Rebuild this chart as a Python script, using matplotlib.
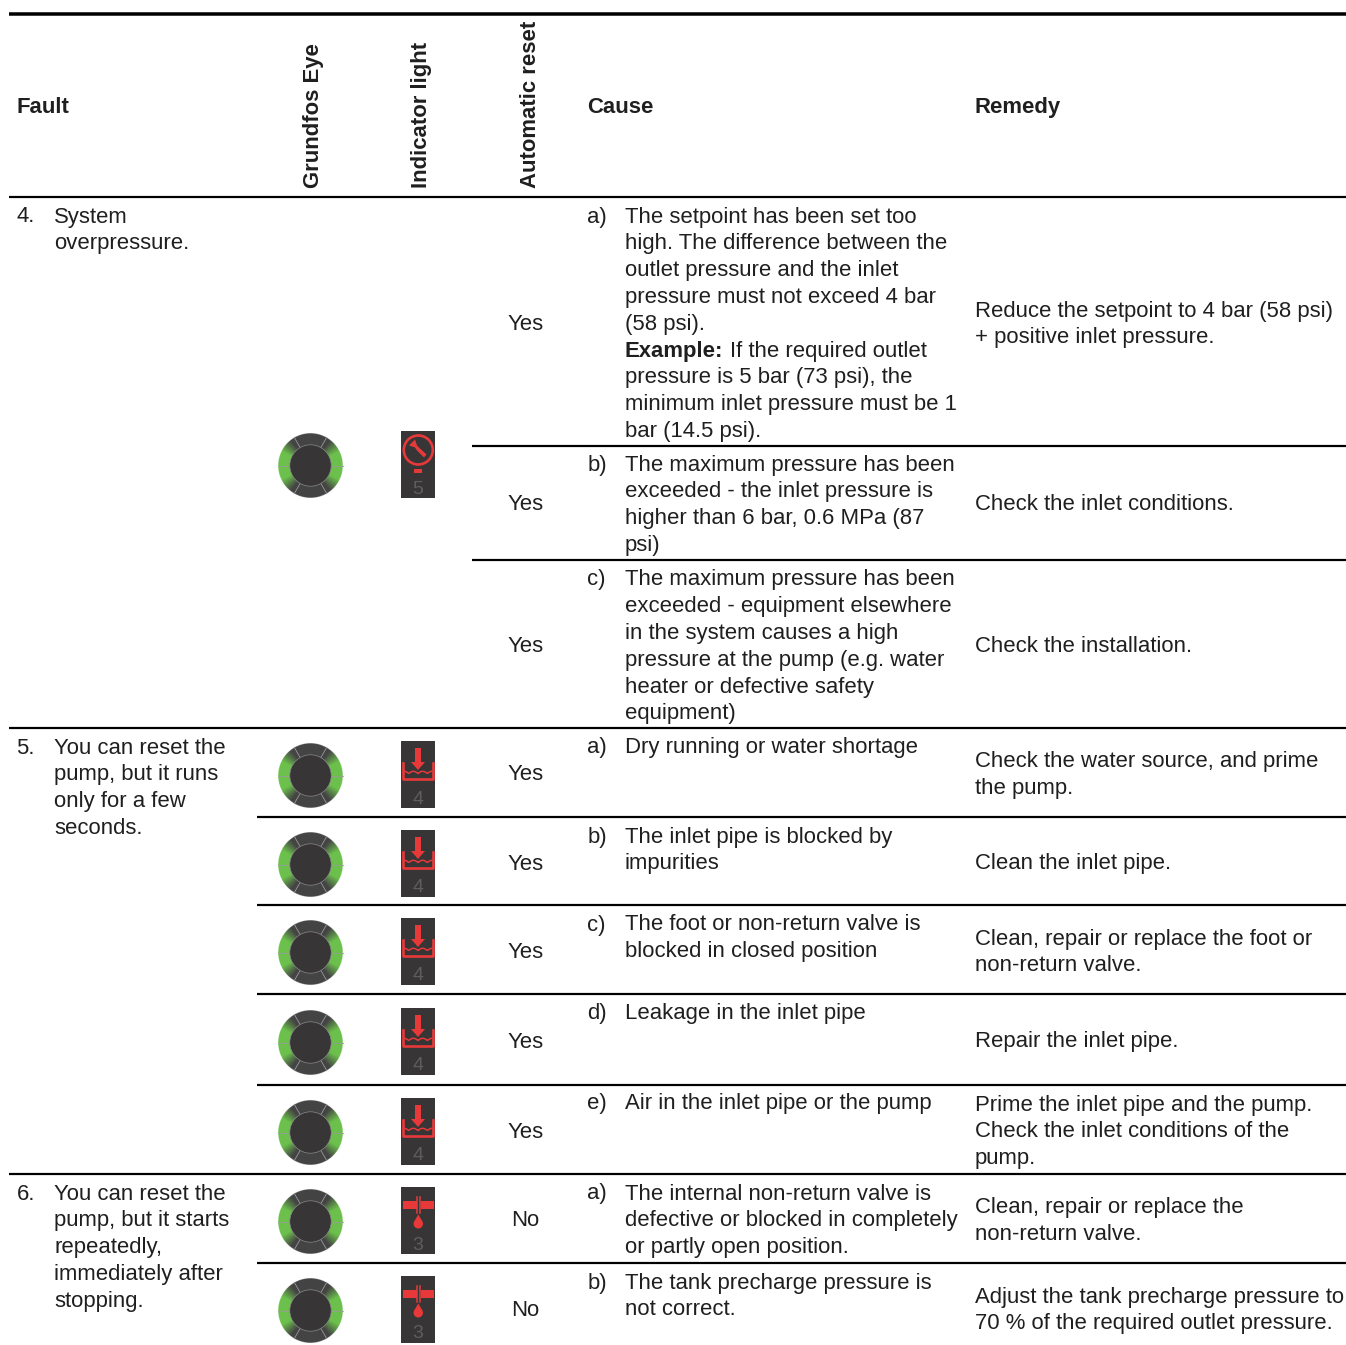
import numpy as np
import matplotlib
matplotlib.use('Agg')
import matplotlib.pyplot as plt
from matplotlib.patches import Circle, Rectangle, Polygon

plt.rcParams['font.family'] = ['Liberation Sans', 'DejaVu Sans']

# table text
headers = ['Fault', 'Cause', 'Remedy']
rotated_headers = ['Grundfos Eye', 'Indicator light', 'Automatic reset']
fault_numbers = ['4.', '5.', '6.']
fault_lines = [['System', 'overpressure.'],
               ['You can reset the', 'pump, but it runs', 'only for a few', 'seconds.'],
               ['You can reset the', 'pump, but it starts', 'repeatedly,', 'immediately after', 'stopping.']]
fault_y = [215, 746, 1192]

cause_letters = ['a)', 'b)', 'c)', 'a)', 'b)', 'c)', 'd)', 'e)', 'a)', 'b)']
cause_lines = [['The setpoint has been set too', 'high. The difference between the', 'outlet pressure and the inlet',
                'pressure must not exceed 4 bar', '(58 psi).', '', 'pressure is 5 bar (73 psi), the',
                'minimum inlet pressure must be 1', 'bar (14.5 psi).'],
               ['The maximum pressure has been', 'exceeded - the inlet pressure is', 'higher than 6 bar, 0.6 MPa (87', 'psi)'],
               ['The maximum pressure has been', 'exceeded - equipment elsewhere', 'in the system causes a high',
                'pressure at the pump (e.g. water', 'heater or defective safety', 'equipment)'],
               ['Dry running or water shortage'],
               ['The inlet pipe is blocked by', 'impurities'],
               ['The foot or non-return valve is', 'blocked in closed position'],
               ['Leakage in the inlet pipe'],
               ['Air in the inlet pipe or the pump'],
               ['The internal non-return valve is', 'defective or blocked in completely', 'or partly open position.'],
               ['The tank precharge pressure is', 'not correct.']]
cause_y = [215, 463, 578, 746, 835, 923, 1012, 1102, 1192, 1281]

auto_reset = ['Yes', 'Yes', 'Yes', 'Yes', 'Yes', 'Yes', 'Yes', 'Yes', 'No', 'No']
auto_y = [322, 502, 645, 773, 862, 950, 1040, 1130, 1219, 1308]

remedy_lines = [['Reduce the setpoint to 4 bar (58 psi)', '+ positive inlet pressure.'],
                ['Check the inlet conditions.'],
                ['Check the installation.'],
                ['Check the water source, and prime', 'the pump.'],
                ['Clean the inlet pipe.'],
                ['Clean, repair or replace the foot or', 'non-return valve.'],
                ['Repair the inlet pipe.'],
                ['Prime the inlet pipe and the pump.', 'Check the inlet conditions of the', 'pump.'],
                ['Clean, repair or replace the', 'non-return valve.'],
                ['Adjust the tank precharge pressure to', '70 % of the required outlet pressure.']]
remedy_y = [309, 503, 645, 760, 862, 937, 1040, 1103, 1206, 1295]

# indicators
eye_y = [465.5, 775.5, 864.5, 952.5, 1042.5, 1132.5, 1221.5, 1310.5]
icon_kind = ['gauge', 'water', 'water', 'water', 'water', 'water', 'pipe', 'pipe']
icon_digit = ['5', '4', '4', '4', '4', '4', '3', '3']

# horizontal rules: y, start x, width in px
rule_y = [14, 197, 446, 560, 728, 817, 905, 994, 1085, 1174, 1263]
rule_x = [9, 9, 472, 472, 9, 257, 257, 257, 257, 9, 257]
rule_w = [3.5, 2.2, 2.2, 2.2, 2.2, 2.2, 2.2, 2.2, 2.2, 2.2, 2.2]

FS = 15.9
LINE = 26.8
INK = '#1f1f1f'
RED = '#e8393a'
DARK = '#373536'
GREEN = np.array([0x6c, 0xc0, 0x4c]) / 255
RING_RGB = np.array([0x44, 0x44, 0x44]) / 255
R_OUT = 32.5
R_IN = 20.7

fig = plt.figure(figsize=(13.46, 13.45), dpi=100)
ax = fig.add_axes([0, 0, 1, 1])


def put(x, y, s, **kw):
    # y is the middle of the lower case letters
    kw.setdefault('fontsize', FS)
    kw.setdefault('color', INK)
    ax.text(x, y + 7.5, s, va='baseline', **kw)


# ring picture, green on the left and right fading into the grey
gx, gy = np.meshgrid(np.linspace(-R_OUT - 1, R_OUT + 1, 270), np.linspace(-R_OUT - 1, R_OUT + 1, 270))
gr = np.hypot(gx, gy)
ga = np.degrees(np.abs(np.arctan2(gy, gx)))
gd = np.minimum(ga, 180 - ga)
gt = np.clip((52 - gd) / 26, 0, 1)[..., None]
ring = np.dstack([RING_RGB + (GREEN - RING_RGB) * gt, np.clip((R_OUT - gr) * 4, 0, 1)])


def draw_eye(cx, cy):
    ax.imshow(ring, extent=(cx - R_OUT - 1, cx + R_OUT + 1, cy + R_OUT + 1, cy - R_OUT - 1), aspect='auto',
              interpolation='antialiased', zorder=1)
    for a in np.arange(0, 360, 60):
        r = np.radians(a)
        ax.plot([cx + R_IN * np.cos(r), cx + R_OUT * np.cos(r)], [cy + R_IN * np.sin(r), cy + R_OUT * np.sin(r)],
                color='#9a9a9a', lw=0.6, zorder=2)
    ax.add_patch(Circle((cx, cy), R_IN, fc=DARK, ec='#8a8a8a', lw=0.5, zorder=3))


def draw_icon(cx, cy, kind, digit):
    ax.add_patch(Rectangle((cx - 17, cy - 33.5), 34, 67, fc=DARK, ec='none'))
    ax.text(cx, cy + 29, digit, color='#5e5e5e', fontsize=14, ha='center', va='baseline')
    if kind == 'gauge':
        ax.add_patch(Circle((cx + 0.3, cy - 14.5), 14.5, fc='none', ec=RED, lw=1.9))
        ax.add_patch(Polygon([(cx - 9, cy - 19), (cx - 3, cy - 25), (cx - 1, cy - 19), (cx + 2, cy - 16),
                              (cx + 8.5, cy - 10), (cx + 6, cy - 7), (cx - 1, cy - 14), (cx - 3, cy - 17)],
                             fc=RED, ec='none'))
        ax.add_patch(Rectangle((cx - 4, cy + 4), 8, 4.5, fc=RED, ec='none'))
    elif kind == 'water':
        ax.add_patch(Rectangle((cx - 3, cy - 26.5), 6, 14.5, fc=RED, ec='none'))
        ax.add_patch(Polygon([(cx - 7, cy - 12.5), (cx + 7, cy - 12.5), (cx, cy - 4.5)], fc=RED, ec='none'))
        ax.plot([cx - 15, cx - 15, cx + 15, cx + 15], [cy - 12, cy + 4, cy + 4, cy - 12], color=RED, lw=1.9,
                solid_joinstyle='round')
        wx = np.linspace(cx - 14, cx + 14, 57)
        ax.plot(wx, cy - 1 - 2.2 * np.abs(np.sin((wx - cx) * np.pi / 9.3)), color=RED, lw=1.1)
    else:
        ax.add_patch(Rectangle((cx - 15.5, cy - 19.2), 14.5, 7.7, fc=RED, ec='none'))
        ax.add_patch(Rectangle((cx + 2.5, cy - 19.2), 13.5, 7.7, fc=RED, ec='none'))
        ax.plot([cx - 1, cx - 1], [cy - 23.5, cy - 7.5], color=RED, lw=1.1)
        ax.plot([cx + 2.3, cx + 2.3], [cy - 23.5, cy - 7.5], color=RED, lw=1.1)
        ax.add_patch(Circle((cx + 0.3, cy + 3.3), 4.7, fc=RED, ec='none'))
        ax.add_patch(Polygon([(cx - 3.8, cy + 1), (cx + 4.4, cy + 1), (cx + 0.3, cy - 6)], fc=RED, ec='none'))


# rules
for y, x0, w in zip(rule_y, rule_x, rule_w):
    ax.plot([x0, 1346], [y, y], color='black', lw=w * 0.72, solid_capstyle='butt')

# header
for x, s in zip([16.5, 587.5, 975], headers):
    put(x, 105.6, s, fontweight='bold')
for x, s in zip([314, 422, 530], rotated_headers):
    ax.text(x, 188, s, rotation=90, ha='center', va='bottom', fontsize=FS, fontweight='bold', color=INK)

# fault column
for num, lines, y0 in zip(fault_numbers, fault_lines, fault_y):
    put(16.5, y0, num)
    for i, s in enumerate(lines):
        put(54, y0 + i * LINE, s)

# cause column
for let, lines, y0 in zip(cause_letters, cause_lines, cause_y):
    put(587.5, y0, let)
    for i, s in enumerate(lines):
        put(625, y0 + i * LINE, s)
put(625, 349, 'Example:', fontweight='bold')
put(730, 349, 'If the required outlet')

# automatic reset column
for s, y in zip(auto_reset, auto_y):
    put(525.5, y, s, ha='center')

# remedy column
for lines, y0 in zip(remedy_lines, remedy_y):
    for i, s in enumerate(lines):
        put(975, y0 + i * LINE, s)

# eyes and indicator lights
for y, kind, digit in zip(eye_y, icon_kind, icon_digit):
    draw_eye(310.5, y)
    draw_icon(418, y - 1, kind, digit)

ax.set_xlim(0, 1346)
ax.set_ylim(1345, 0)
ax.axis('off')

fig.savefig('out.png', dpi=100)
